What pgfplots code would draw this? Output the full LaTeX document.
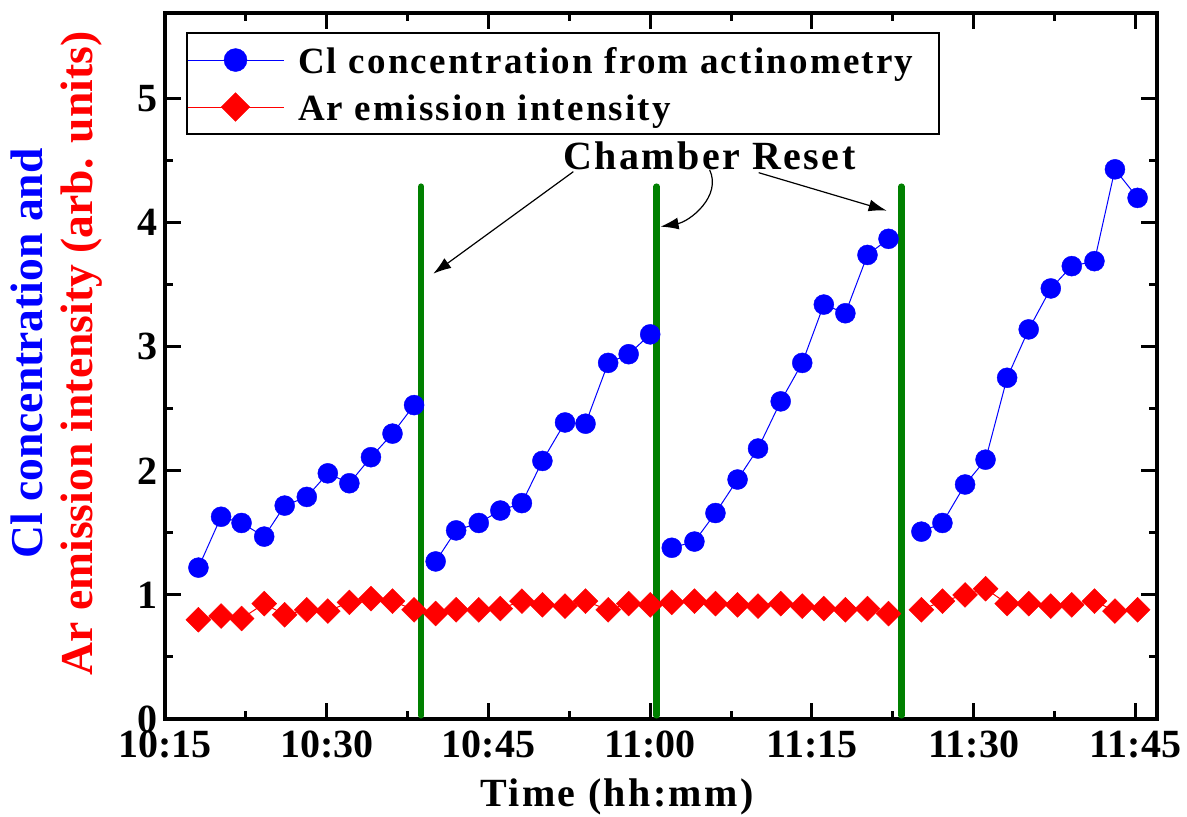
\documentclass[border=0pt]{standalone}
\usepackage{fontspec}
\setmainfont{Liberation Serif}
\newfontfamily\spacedserif{Liberation Serif}[LetterSpace=6]
\usepackage{pgfplots}
\pgfplotsset{compat=1.18}
\usepackage{pgfplotstable}
\usetikzlibrary{arrows.meta}
\definecolor{resetgreen}{RGB}{0,128,0}

% time in minutes after 10:00, Cl concentration, Ar emission intensity
% (nan rows break the lines at each chamber reset)
\pgfplotstableread{
t cl ar
18.1 1.22 0.80
20.2 1.63 0.83
22.1 1.58 0.81
24.2 1.47 0.93
26.1 1.72 0.84
28.15 1.79 0.88
30.1 1.98 0.87
32.1 1.90 0.94
34.1 2.11 0.97
36.1 2.30 0.95
38.1 2.53 0.88
nan nan nan
40.1 1.27 0.85
42.0 1.52 0.88
44.1 1.58 0.88
46.1 1.68 0.89
48.1 1.74 0.95
50.0 2.08 0.92
52.1 2.39 0.91
54.0 2.38 0.95
56.1 2.87 0.88
58.0 2.94 0.93
60.0 3.10 0.92
nan nan nan
62.0 1.38 0.94
64.1 1.43 0.95
66.05 1.66 0.93
68.1 1.93 0.92
70.0 2.18 0.91
72.1 2.56 0.93
74.1 2.87 0.91
76.1 3.34 0.89
78.1 3.27 0.88
80.15 3.74 0.89
82.1 3.87 0.85
nan nan nan
85.15 1.51 0.88
87.1 1.58 0.95
89.2 1.89 1.00
91.1 2.09 1.05
93.1 2.75 0.93
95.1 3.14 0.93
97.15 3.47 0.91
99.1 3.65 0.92
101.2 3.69 0.95
103.1 4.43 0.87
105.2 4.20 0.88
}\rundata

\begin{document}
\begin{tikzpicture}
\begin{axis}[
  at={(0,0)}, anchor=south west,
  scale only axis, width=496pt, height=353pt,
  xmin=15, xmax=107, ymin=0, ymax=5.69,
  xtick={15,30,45,60,75,90,105},
  xticklabels={10:15,10:30,10:45,11:00,11:15,11:30,11:45},
  ytick={0,1,2,3,4,5},
  minor x tick num=1, minor y tick num=1,
  tick align=inside,
  major tick length=8pt, minor tick length=4pt,
  axis line style={line width=1.6pt},
  tick style={black, line width=1.5pt},
  tick label style={font=\bfseries\fontsize{20}{24}\selectfont},
  xticklabel style={yshift=-2.5pt},
  /pgf/number format/assume math mode=true,
  xlabel={\spacedserif\bfseries Time (hh:mm)},
  xlabel style={font=\fontsize{20}{24}\selectfont, at={(axis description cs:0.4556,-0.1105)}, anchor=center},
  ylabel={\textcolor{blue}{Cl concentration and}\\\textcolor{red}{Ar emission intensity (arb. units)}},
  ylabel style={align=center, font=\bfseries\fontsize{22.8}{25}\selectfont, at={(axis description cs:-0.1089,0.5177)}, anchor=center},
  unbounded coords=jump,
  legend cell align=left,
  legend style={at={(rel axis cs:0.0212,0.973)}, anchor=north west,
    draw=black, line width=1pt,
    font=\spacedserif\bfseries\fontsize{18.5}{22}\selectfont,
    inner xsep=0pt, inner ysep=1pt,
    nodes={inner sep=0pt, text height=19pt, text depth=6pt},
    row sep=-1.5pt,
    /tikz/every odd column/.append style={column sep=7pt}},
  legend image code/.code={
    \draw[#1] (0pt,0pt) -- (48pt,0pt);
    \draw[#1, only marks, every mark/.append style={scale=1.15}] plot coordinates {(24pt,0pt)};
  },
]
\addplot[blue, line width=0.5pt, mark=*, mark size=5pt,
  mark options={solid, fill=blue, draw=blue, line width=0.2pt}]
  table[x=t, y=cl] {\rundata};
\addlegendentry{Cl concentration from actinometry\hspace*{13pt}}
\addplot[red, line width=0.5pt, mark=square*, mark size=4.4pt,
  mark options={solid, rotate=45, fill=red, draw=red, line width=0.2pt}]
  table[x=t, y=ar] {\rundata};
\addlegendentry{Ar emission intensity}

% chamber reset markers
\addplot[resetgreen, line width=3.3pt, line cap=round, forget plot] coordinates {(38.75,0.03) (38.75,4.29)};
\addplot[resetgreen, line width=3.3pt, line cap=round, forget plot] coordinates {(60.6,0.03) (60.6,4.29)};
\addplot[resetgreen, line width=3.3pt, line cap=round, forget plot] coordinates {(83.3,0.03) (83.3,4.29)};

\node[font=\spacedserif\bfseries\fontsize{20}{24}\selectfont, anchor=base] at (axis cs:65.5,4.427) {Chamber Reset};
\draw[line width=0.6pt, -{Latex[length=9pt,width=6pt]}] (axis cs:52.87,4.411) -- (axis cs:39.88,3.589);
\draw[line width=0.6pt, -{Latex[length=9pt,width=6pt]}] (axis cs:65.51,4.427) to[out=-65,in=10] (axis cs:60.96,3.968);
\draw[line width=0.6pt, -{Latex[length=9pt,width=6pt]}] (axis cs:70.06,4.403) -- (axis cs:81.93,4.097);
\end{axis}
\pgfresetboundingbox
\path (-82.5pt,-48.5pt) rectangle (511pt,359.5pt);
\end{tikzpicture}
\end{document}
